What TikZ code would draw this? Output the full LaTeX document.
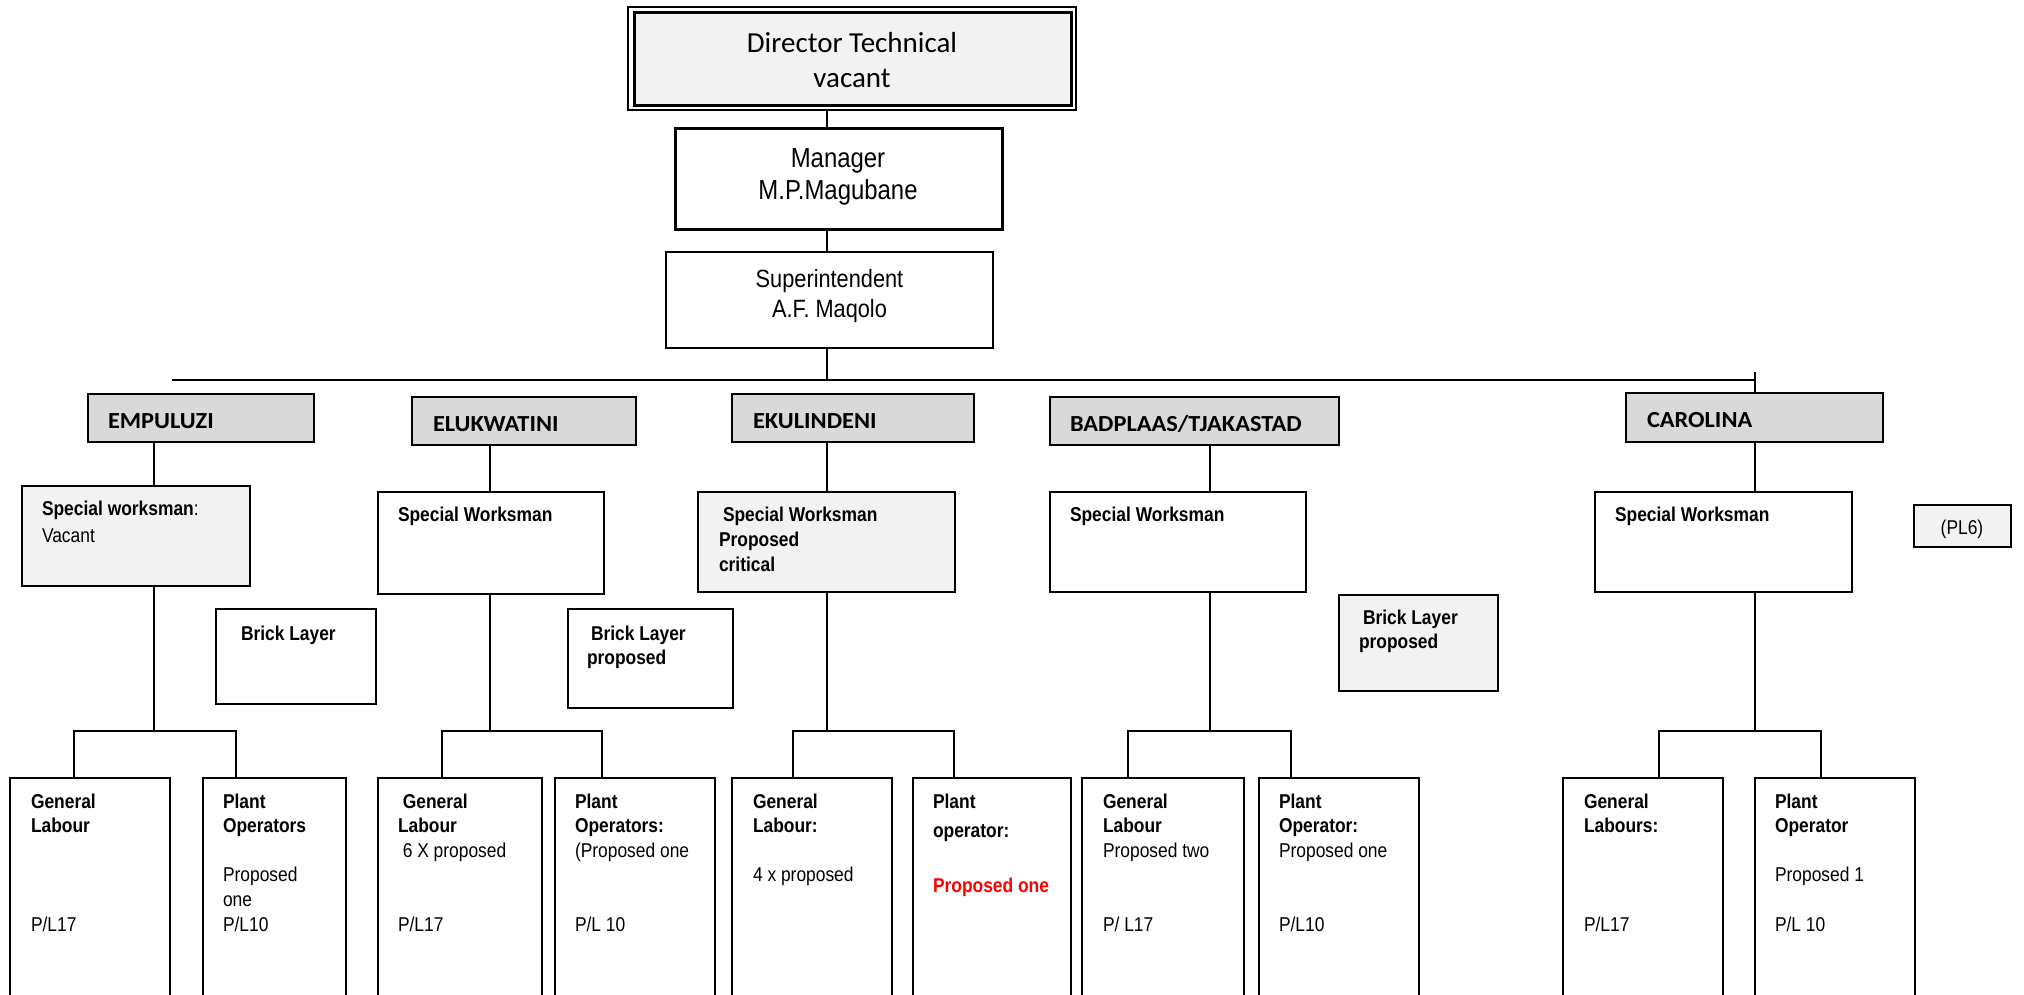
\documentclass[tikz,border=0pt]{standalone}
\usepackage{fontspec}
\setmainfont{Liberation Sans}
\newfontfamily\arialn[FakeStretch=0.87]{Liberation Sans}
\newfontfamily\calib{Carlito}
\newfontfamily\calibw[FakeStretch=1.06]{Carlito}

\definecolor{secfill}{HTML}{D9D9D9}
\definecolor{softfill}{HTML}{F2F2F2}

% stacked lines with a fixed baseline step; the node baseline is the first line
\newcommand\lstack[2]{\vtop{\baselineskip=#1\lineskiplimit=-50pt\lineskip=0pt\tabskip=0pt\halign{##\hfil\cr#2\crcr}}}
\newcommand\cstack[2]{\vtop{\baselineskip=#1\lineskiplimit=-50pt\lineskip=0pt\tabskip=0pt\halign{\hfil##\hfil\cr#2\crcr}}}

% box from its top-left (x1,y1) to bottom-right (x2,y2)
\newcommand\pbox[6]{\node[#1, anchor=north west, minimum width={(#5-#3)*1pt}, minimum height={(#6-#4)*1pt}] (#2) at (#3,#4) {};}

\tikzset{
  frame/.style={draw=black, line width=2.2pt, inner sep=0pt, outer sep=0pt, fill=white},
  section/.style={frame, fill=secfill},
  soft/.style={frame, fill=softfill},
  link/.style={draw=black, line width=1.7pt},
  txt/.style={inner sep=0pt, outer sep=0pt, anchor=base west, text=black},
  ctxt/.style={inner sep=0pt, outer sep=0pt, anchor=base, text=black},
  post/.style={txt, font=\arialn\fontsize{20}{24.6}\selectfont},
  sect/.style={txt, font=\calibw\bfseries\fontsize{23}{28}\selectfont},
}

% branch of one site: drop from the site box to its special workman and on to its two posts
\newcommand\site[4]{%
  \coordinate (#1x) at (#2,731);
  \coordinate (#1a) at (#3,731);
  \coordinate (#1b) at (#4,731);
  \draw[link] (#1.south -| #1x) -- (#1sw.north -| #1x);
  \draw[link] (#1sw.south -| #1x) -- (#1x);
  \draw[link] (#1gl.north -| #1a) -- (#1a) -- (#1b) -- (#1po.north -| #1b);
}

\begin{document}
\begin{tikzpicture}[x=1pt,y=-1pt]
\useasboundingbox (0,0) rectangle (2024,994);
\clip (0,0) rectangle (2024,994);
\fill[white] (0,0) rectangle (2024,994);

% top of the chart
\pbox{frame, line width=2pt}{dirout}{628}{7}{1076}{110}
\pbox{soft, line width=3pt}{dir}{634}{12}{1071}{105}
\pbox{frame, line width=3pt}{mgr}{675}{128}{1002}{229}
\pbox{frame}{sup}{666}{252}{993}{348}

% sites
\pbox{section}{emp}{88}{394}{314}{442}
\pbox{section}{elu}{412}{397}{636}{445}
\pbox{section}{eku}{732}{394}{974}{442}
\pbox{section}{bad}{1050}{397}{1339}{445}
\pbox{section}{car}{1626}{393}{1883}{442}

% special workmen
\pbox{soft}{empsw}{22}{486}{250}{586}
\pbox{frame}{elusw}{378}{492}{604}{594}
\pbox{soft}{ekusw}{698}{492}{955}{592}
\pbox{frame}{badsw}{1050}{492}{1306}{592}
\pbox{frame}{carsw}{1595}{492}{1852}{592}

% brick layers and grade tag
\pbox{frame}{empbl}{216}{609}{376}{704}
\pbox{frame}{elubl}{568}{609}{733}{708}
\pbox{soft}{badbl}{1339}{595}{1498}{691}
\pbox{soft}{pl6}{1914}{505}{2011}{547}

% posts
\pbox{frame}{empgl}{10}{778}{170}{1010}
\pbox{frame}{emppo}{203}{778}{346}{1010}
\pbox{frame}{elugl}{378}{778}{542}{1010}
\pbox{frame}{elupo}{555}{778}{715}{1010}
\pbox{frame}{ekugl}{732}{778}{892}{1010}
\pbox{frame}{ekupo}{913}{778}{1071}{1010}
\pbox{frame}{badgl}{1082}{778}{1244}{1010}
\pbox{frame}{badpo}{1259}{778}{1419}{1010}
\pbox{frame}{cargl}{1563}{778}{1723}{1010}
\pbox{frame}{carpo}{1755}{778}{1915}{1010}

% spine and rail
\coordinate (spine) at (827,380);
\coordinate (railL) at (172,380);
\coordinate (railR) at (1755,380);
\coordinate (railTop) at (1755,372);
\draw[link] (dirout.south -| spine) -- (mgr.north -| spine);
\draw[link] (mgr.south -| spine) -- (sup.north -| spine);
\draw[link] (sup.south -| spine) -- (spine);
\draw[link] (railL) -- (railR);
\draw[link] (railTop) -- (car.north -| railTop);

\site{emp}{154}{74}{236}
\site{elu}{490}{442}{602}
\site{eku}{827}{793}{954}
\site{bad}{1210}{1128}{1291}
\site{car}{1755}{1659}{1821}

% texts
\node[ctxt, font=\calib\fontsize{29}{35}\selectfont] (dirtxt) at (852,52) {\cstack{35pt}{Director Technical\cr vacant}};
\node[ctxt, font=\arialn\fontsize{27.5}{32}\selectfont] (mgrtxt) at (838,167) {\cstack{32pt}{Manager\cr M.P.Magubane}};
\node[ctxt, font=\arialn\fontsize{25}{30}\selectfont] (suptxt) at (829.5,287) {\cstack{30pt}{Superintendent\cr A.F. Maqolo}};

\node[sect] (emptxt) at (108,428) {EMPULUZI};
\node[sect] (elutxt) at (433,431) {ELUKWATINI};
\node[sect] (ekutxt) at (753,428) {EKULINDENI};
\node[sect] (badtxt) at (1070,431) {BADPLAAS/TJAKASTAD};
\node[sect] (cartxt) at (1647,427) {CAROLINA};

\node[post] (empswtxt) at (42,515) {\lstack{27pt}{\textbf{Special worksman}:\cr Vacant}};
\node[post] (eluswtxt) at (398,521) {\textbf{Special Worksman}};
\node[post] (ekuswtxt) at (719,521) {\lstack{25pt}{\textbf{\kern4pt Special Worksman}\cr\textbf{Proposed}\cr\textbf{critical}}};
\node[post] (badswtxt) at (1070,521) {\textbf{Special Worksman}};
\node[post] (carswtxt) at (1615,521) {\textbf{Special Worksman}};

\node[post] (empbltxt) at (241,640) {\textbf{Brick Layer}};
\node[post] (elubltxt) at (587,640) {\lstack{24pt}{\textbf{\kern4pt Brick Layer}\cr\textbf{proposed}}};
\node[post] (badbltxt) at (1359,624) {\lstack{24pt}{\textbf{\kern4pt Brick Layer}\cr\textbf{proposed}}};
\node[ctxt, font=\arialn\fontsize{20}{24}\selectfont] (pl6txt) at (1962,534) {(PL6)};

\node[post] (empgltxt) at (31,808) {\lstack{24.6pt}{\textbf{General}\cr\textbf{Labour}\cr\cr\cr\cr P/L17}};
\node[post] (emppotxt) at (223,808) {\lstack{24.6pt}{\textbf{Plant}\cr\textbf{Operators}\cr\cr Proposed\cr one\cr P/L10}};
\node[post] (elugltxt) at (398,808) {\lstack{24.6pt}{\textbf{\kern4.8pt General}\cr\textbf{Labour}\cr\kern4.8pt 6 X proposed\cr\cr\cr P/L17}};
\node[post] (elupotxt) at (575,808) {\lstack{24.6pt}{\textbf{Plant}\cr\textbf{Operators:}\cr(Proposed one\cr\cr\cr P/L 10}};
\node[post] (ekugltxt) at (753,808) {\lstack{24.6pt}{\textbf{General}\cr\textbf{Labour:}\cr\cr 4 x proposed}};
\node[post] (ekupotxt) at (933,808) {\lstack{24.6pt}{\textbf{Plant}\cr\noalign{\vskip4.4pt}\textbf{operator:}\cr\noalign{\vskip30.4pt}\textcolor{red}{\textbf{Proposed one}}}};
\node[post] (badgltxt) at (1103,808) {\lstack{24.6pt}{\textbf{General}\cr\textbf{Labour}\cr Proposed two\cr\cr\cr P/ L17}};
\node[post] (badpotxt) at (1279,808) {\lstack{24.6pt}{\textbf{Plant}\cr\textbf{Operator:}\cr Proposed one\cr\cr\cr P/L10}};
\node[post] (cargltxt) at (1584,808) {\lstack{24.6pt}{\textbf{General}\cr\textbf{Labours:}\cr\cr\cr\cr P/L17}};
\node[post] (carpotxt) at (1775,808) {\lstack{24.6pt}{\textbf{Plant}\cr\textbf{Operator}\cr\cr Proposed 1\cr\cr P/L 10}};
\end{tikzpicture}
\end{document}
